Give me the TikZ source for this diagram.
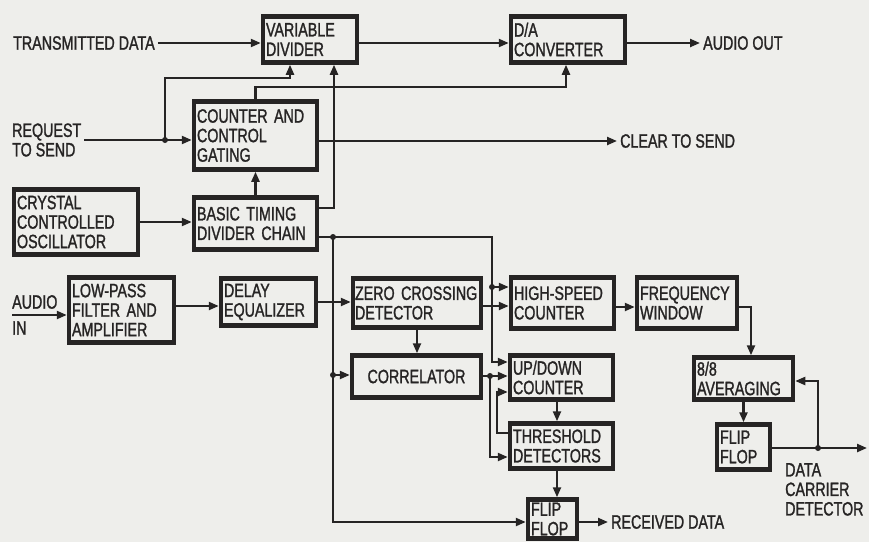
\documentclass[tikz,border=0pt]{standalone}
\usepackage{fontspec}
\setmainfont{Liberation Sans}[FakeStretch=0.74, FakeBold=1.3]
\usetikzlibrary{arrows.meta}
\definecolor{ink}{RGB}{38,36,36}
\definecolor{paper}{RGB}{238,238,235}
\begin{document}
\begin{tikzpicture}[
        x=1pt, y=-1pt,
        font=\fontsize{19.3}{19.5}\selectfont,
        block/.style={draw=ink, line width=4.5pt, fill=paper, text=ink, align=left, inner xsep=3pt, inner ysep=2pt},
        lbl/.style={inner sep=3pt, align=left, text=ink},
        arr/.style={draw=ink, line width=2.2pt, -{Triangle[length=10pt,width=8pt]}},
        wire/.style={draw=ink, line width=2.2pt}
    ]
        % Paper
        \fill[paper] (0,0) rectangle (869,542);

        % Transmit side
        \node[block, text width=88pt, minimum height=46pt] (vd) at (310,39.5) {VARIABLE\\DIVIDER};
        \node[block, text width=108pt, minimum height=46pt] (da) at (568,39.5) {D/A\\CONVERTER};
        \node[block, text width=117pt, minimum height=68pt] (ccg) at (255.5,135.5) {COUNTER AND\\CONTROL\\GATING};
        \node[block, text width=118pt, minimum height=65pt] (cco) at (76,222) {CRYSTAL\\CONTROLLED\\OSCILLATOR};
        \node[block, text width=117pt, minimum height=52pt] (btd) at (255.5,223.5) {BASIC TIMING\\DIVIDER CHAIN};

        % Receive side
        \node[block, text width=99pt, minimum height=65pt] (lpf) at (121.5,310) {LOW-PASS\\FILTER AND\\AMPLIFIER};
        \node[block, text width=89pt, minimum height=47pt] (deq) at (268.5,302) {DELAY\\EQUALIZER};
        \node[block, text width=124pt, inner xsep=2pt, minimum height=49pt] (zcd) at (417,303) {\mbox{ZERO CROSSING}\\DETECTOR};
        \node[block, text width=123pt, minimum height=42pt, align=center] (cor) at (416.5,376.5) {CORRELATOR};
        \node[block, text width=97pt, minimum height=51pt] (hsc) at (562.5,303) {HIGH-SPEED\\COUNTER};
        \node[block, text width=94pt, minimum height=51pt] (fw) at (687,303) {FREQUENCY\\WINDOW};
        \node[block, text width=97pt, minimum height=44pt] (udc) at (561.5,377.5) {UP/DOWN\\COUNTER};
        \node[block, text width=97pt, minimum height=45pt] (thd) at (561.5,446) {THRESHOLD\\DETECTORS};
        \node[block, text width=43pt, minimum height=39pt] (ff1) at (552.5,519) {FLIP\\FLOP};
        \node[block, text width=93pt, minimum height=42pt] (avg) at (743.5,378.5) {8/8\\AVERAGING};
        \node[block, text width=47pt, minimum height=45pt] (ff2) at (743.5,447) {FLIP\\FLOP};

        % Outside labels
        \node[lbl, anchor=west] (txd) at (10,43) {TRANSMITTED DATA};
        \node[lbl, anchor=west] (rts) at (9,140) {REQUEST\\TO SEND};
        \node[lbl, anchor=west] (cts) at (617,141) {CLEAR TO SEND};
        \node[lbl, anchor=west] (aout) at (700,43) {AUDIO OUT};
        \node[lbl, anchor=west] (ain1) at (9,302) {AUDIO};
        \node[lbl, anchor=west] (ain2) at (9,328) {IN};
        \node[lbl, anchor=west] (rxd) at (608,522) {RECEIVED DATA};
        \node[lbl, anchor=north west] (dcd) at (782,460) {DATA\\CARRIER\\DETECTOR};

        % Junctions and bends
        \coordinate (j1) at (165,140);
        \coordinate (vdin) at (290,78);
        \coordinate (dain) at (566,87);
        \coordinate (vdclk) at (334,208);
        \coordinate (jb) at (333,237);
        \coordinate (jh) at (492,287);
        \coordinate (jc) at (333,375);
        \coordinate (jr) at (490,376);
        \coordinate (jd) at (818,448);
        \coordinate (dcout) at (867,448);
        \coordinate (ain) at (12,315);

        % Transmit paths
        \draw[arr] (txd) -- (txd -| vd.west);
        \draw[arr] (vd.east |- txd) -- (da.west |- txd);
        \draw[arr] (da.east |- aout) -- (aout);
        \draw[arr] (rts) -- (rts -| ccg.west);
        \draw[arr] (j1) |- (vdin) -- (vd.south -| vdin);
        \draw[arr] (ccg.north) |- (dain) -- (da.south -| dain);
        \draw[arr] (ccg.east |- cts) -- (cts);
        \draw[arr] (cco) -- (cco -| btd.west);
        \draw[arr] (btd) -- (ccg);
        \draw[arr] (btd.east |- vdclk) -- (vdclk) -- (vdclk |- vd.south);

        % Clock distribution
        \draw[wire] (btd.east |- jb) -- (jb);
        \draw[arr] (jb) -| (jh) |- (udc.west |- 0,362);
        \draw[arr] (jh) -- (hsc.west |- jh);
        \draw[arr] (jb) |- (ff1.west |- 0,522);
        \draw[arr] (jc) -- (cor.west |- jc);

        % Receive paths
        \draw[arr] (ain) -- (ain -| lpf.west);
        \draw[arr] (lpf.east |- 0,306) -- (deq.west |- 0,306);
        \draw[arr] (deq) -- (deq -| zcd.west);
        \draw[arr] (zcd.south) -- (zcd.south |- cor.north);
        \draw[arr] (zcd.east |- 0,306) -- (hsc.west |- 0,306);
        \draw[wire] (cor.east |- jr) -- (jr);
        \draw[arr] (jr) -- (udc.west |- jr);
        \draw[arr] (jr) |- (thd.west |- 0,457);
        \draw[arr] (thd.west |- 0,433) -| (497,392) -- (udc.west |- 0,392);
        \draw[arr] (udc.south -| 557,0) -- (thd.north -| 557,0);
        \draw[arr] (thd.south -| 557,0) -- (ff1.north -| 557,0);
        \draw[arr] (ff1.east |- rxd) -- (rxd);

        % Carrier detect
        \draw[arr] (hsc.east |- 0,307) -- (fw.west |- 0,307);
        \draw[arr] (fw.east |- 0,307) -| (avg.north -| 751,0);
        \draw[arr] (avg) -- (ff2);
        \draw[arr] (ff2.east |- jd) -- (dcout);
        \draw[arr] (jd) |- (avg.east |- 0,381);

        % Dots
        \foreach \j in {j1,jb,jh,jc,jr,jd}
            \fill[ink] (\j) circle (3pt);
    \end{tikzpicture}
\end{document}
